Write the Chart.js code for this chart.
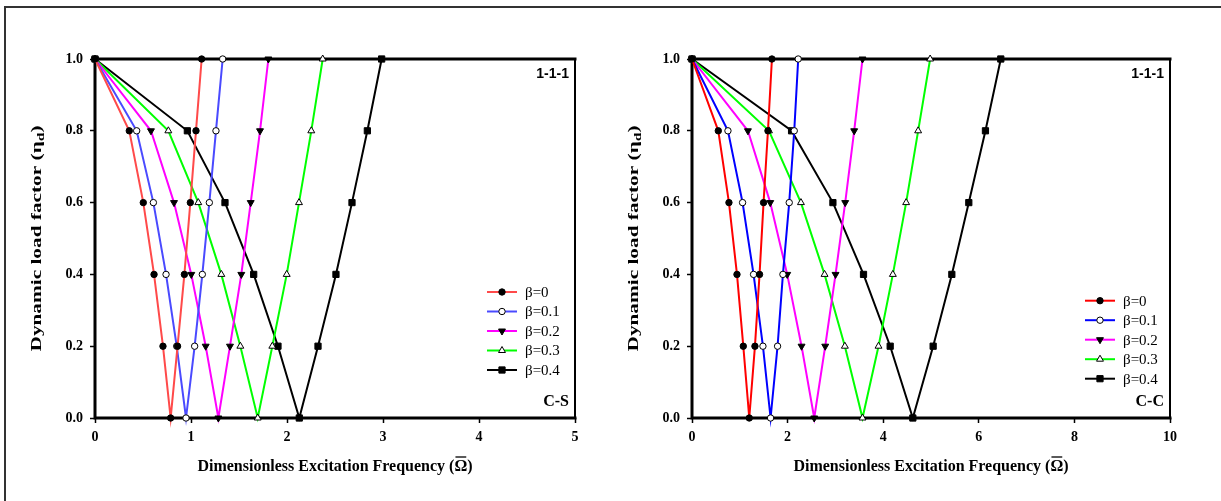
<!DOCTYPE html>
<html><head><meta charset="utf-8">
<script src="https://cdn.jsdelivr.net/npm/chart.js@4/dist/chart.umd.min.js"></script>
<style>
html,body{margin:0;padding:0;background:#fff;width:1221px;height:501px;overflow:hidden}
#frame{position:absolute;left:4px;top:6px;width:1217px;height:495px;border-top:2px solid #333;border-left:2px solid #333;box-sizing:border-box}
#c1{position:absolute;left:0;top:0}
#c2{position:absolute;left:600px;top:0}
</style></head><body>
<div id="frame"></div>
<canvas id="c1" width="600" height="501"></canvas>
<canvas id="c2" width="621" height="501"></canvas>
<script>
// ---------- data ----------
const seriesLabels = ['β=0', 'β=0.1', 'β=0.2', 'β=0.3', 'β=0.4'];
const etaLevels = [1.0, 0.8, 0.6, 0.4, 0.2, 0.0, 0.2, 0.4, 0.6, 0.8, 1.0];

// C-S panel: excitation frequency at each eta level (left branch down, right branch up)
const csBeta0  = [0, 0.357, 0.503, 0.615, 0.708, 0.788, 0.860, 0.931, 0.993, 1.052, 1.111];
const csBeta01 = [0, 0.434, 0.608, 0.740, 0.851, 0.948, 1.038, 1.118, 1.191, 1.260, 1.330];
const csBeta02 = [0, 0.583, 0.823, 1.003, 1.153, 1.285, 1.406, 1.524, 1.622, 1.719, 1.806];
const csBeta03 = [0, 0.764, 1.076, 1.316, 1.514, 1.695, 1.847, 1.997, 2.125, 2.253, 2.372];
const csBeta04 = [0, 0.962, 1.354, 1.653, 1.906, 2.128, 2.323, 2.510, 2.677, 2.837, 2.986];

// C-C panel
const ccBeta0  = [0, 0.550, 0.773, 0.941, 1.073, 1.198, 1.317, 1.413, 1.497, 1.589, 1.672];
const ccBeta01 = [0, 0.752, 1.058, 1.288, 1.484, 1.644, 1.790, 1.902, 2.034, 2.139, 2.222];
const ccBeta02 = [0, 1.170, 1.637, 1.992, 2.292, 2.557, 2.787, 3.003, 3.205, 3.393, 3.567];
const ccBeta03 = [0, 1.610, 2.279, 2.773, 3.198, 3.567, 3.902, 4.202, 4.480, 4.731, 4.982];
const ccBeta04 = [0, 2.083, 2.948, 3.588, 4.146, 4.620, 5.045, 5.436, 5.791, 6.139, 6.460];

const yTicks = [0, 0.2, 0.4, 0.6, 0.8, 1.0];
const csXTicks = [0, 1, 2, 3, 4, 5];
const ccXTicks = [0, 2, 4, 6, 8, 10];

const xTitle = 'Dimensionless Excitation Frequency (';
const yTitle = 'Dynamic load factor (η';

// ---------- styles ----------
const markerStyles = [
  {pointStyle: 'circle', radius: 3.2, rotation: 0, fill: '#000'},
  {pointStyle: 'circle', radius: 3.2, rotation: 0, fill: '#fff'},
  {pointStyle: 'triangle', radius: 4, rotation: 180, fill: '#000'},
  {pointStyle: 'triangle', radius: 4, rotation: 0, fill: '#fff'},
  {pointStyle: 'rect', radius: 4.4, rotation: 0, fill: '#000'}
];
const SERIF = '"Liberation Serif", "Times New Roman", serif';
const SANS = '"Liberation Sans", Arial, sans-serif';

function makeDatasets(xArrays, colors) {
  return xArrays.map((xs, i) => ({
    label: seriesLabels[i],
    data: xs.map((x, k) => ({x: x, y: etaLevels[k]})),
    showLine: true,
    borderColor: colors[i],
    borderWidth: 2,
    pointStyle: markerStyles[i].pointStyle,
    pointRadius: markerStyles[i].radius,
    pointRotation: markerStyles[i].rotation,
    pointBackgroundColor: markerStyles[i].fill,
    pointBorderColor: '#000',
    pointBorderWidth: 1,
    clip: false,
    tension: 0
  }));
}

function drawMarker(ctx, st, x, y) {
  ctx.save();
  ctx.fillStyle = st.fill; ctx.strokeStyle = '#000'; ctx.lineWidth = 1;
  if (Chart.helpers && Chart.helpers.drawPoint) {
    Chart.helpers.drawPoint(ctx, {pointStyle: st.pointStyle, radius: st.radius, rotation: st.rotation, borderWidth: 1}, x, y);
  } else {
    ctx.beginPath(); ctx.arc(x, y, st.radius, 0, Math.PI * 2); ctx.fill(); ctx.stroke();
  }
  ctx.restore();
}

const panelPlugin = {
  id: 'panelDeco',
  beforeDatasetsDraw(chart, args, opts) {
    const {ctx, chartArea: a} = chart;
    ctx.save();
    ctx.strokeStyle = '#000';
    ctx.lineCap = 'square';
    ctx.lineWidth = 3;
    ctx.beginPath();
    ctx.moveTo(a.left, a.bottom); ctx.lineTo(a.left, a.top); ctx.lineTo(a.right, a.top);
    ctx.moveTo(a.left, a.bottom); ctx.lineTo(a.right, a.bottom);
    ctx.stroke();
    ctx.lineWidth = 2;
    ctx.beginPath(); ctx.moveTo(a.right, a.top); ctx.lineTo(a.right, a.bottom); ctx.stroke();
    ctx.restore();
  },
  afterDraw(chart, args, opts) {
    const {ctx, chartArea: a} = chart;
    ctx.save();
    ctx.fillStyle = '#000';
    // corner labels
    ctx.font = 'bold 14px ' + SANS;
    ctx.textAlign = 'right'; ctx.textBaseline = 'alphabetic';
    ctx.fillText('1-1-1', a.right - 6, a.top + 19);
    ctx.font = 'bold 16px ' + SERIF;
    ctx.fillText(opts.tag, a.right - 6, a.bottom - 12);

    // legend
    ctx.font = '15px ' + SERIF;
    ctx.textAlign = 'left'; ctx.textBaseline = 'middle';
    for (let i = 0; i < 5; i++) {
      const y = a.top + opts.legTop + i * 19.5;
      const ds = chart.data.datasets[i];
      ctx.strokeStyle = ds.borderColor; ctx.lineWidth = 2;
      ctx.beginPath();
      ctx.moveTo(a.right - opts.legLine, y); ctx.lineTo(a.right - opts.legLine + 30, y);
      ctx.stroke();
      drawMarker(ctx, markerStyles[i], a.right - opts.legLine + 15, y);
      ctx.fillStyle = '#000';
      ctx.fillText(seriesLabels[i], a.right - opts.legText, y + 1);
    }

    // x title with overbar on Omega
    ctx.font = 'bold 16px ' + SERIF;
    ctx.textBaseline = 'middle'; ctx.textAlign = 'left';
    const full = xTitle + 'Ω)';
    const wFull = ctx.measureText(full).width;
    const cx = (a.left + a.right) / 2;
    const tx = cx - wFull / 2, ty = a.bottom + 49;
    ctx.fillText(full, tx, ty);
    const w1 = ctx.measureText(xTitle).width;
    const wO = ctx.measureText('Ω').width;
    ctx.strokeStyle = '#000'; ctx.lineWidth = 1.3;
    ctx.beginPath(); ctx.moveTo(tx + w1 + 1, ty - 10); ctx.lineTo(tx + w1 + wO - 1, ty - 10); ctx.stroke();

    // y title with subscript d, stretched along its length
    ctx.translate(a.left - 58, (a.top + a.bottom) / 2);
    ctx.rotate(-Math.PI / 2);
    ctx.font = 'bold 15px ' + SERIF;
    const wa = ctx.measureText(yTitle).width;
    ctx.font = 'bold 11px ' + SERIF;
    const wd = ctx.measureText('d').width;
    ctx.font = 'bold 15px ' + SERIF;
    const wc = ctx.measureText(')').width;
    const total = wa + wd + wc;
    ctx.scale(opts.yTitleLen / total, 1);
    let x0 = -total / 2;
    ctx.fillText(yTitle, x0, 0);
    ctx.font = 'bold 11px ' + SERIF;
    ctx.fillText('d', x0 + wa, 4);
    ctx.font = 'bold 15px ' + SERIF;
    ctx.fillText(')', x0 + wa + wd, 0);
    ctx.restore();
  }
};

function makeChart(id, xArrays, colors, xMax, xTicks, pad, deco) {
  return new Chart(document.getElementById(id), {
    type: 'scatter',
    data: {datasets: makeDatasets(xArrays, colors)},
    options: {
      responsive: false,
      animation: false,
      layout: {padding: pad},
      plugins: {legend: {display: false}, tooltip: {enabled: false}, panelDeco: deco},
      scales: {
        x: {
          type: 'linear', min: 0, max: xMax,
          afterBuildTicks: s => { s.ticks = xTicks.map(v => ({value: v})); },
          afterFit: s => { s.height = 83; },
          ticks: {color: '#000', font: {family: SERIF, size: 14, weight: 'bold'}, padding: 6, maxRotation: 0},
          grid: {drawOnChartArea: false, drawTicks: true, tickLength: 5, tickColor: '#000', tickWidth: 1.5},
          border: {display: false}
        },
        y: {
          type: 'linear', min: 0, max: 1,
          afterBuildTicks: s => { s.ticks = yTicks.map(v => ({value: v})); },
          afterFit: s => { s.width = 90; },
          ticks: {color: '#000', font: {family: SERIF, size: 14, weight: 'bold'}, padding: 7,
                  callback: v => Number(v).toFixed(1)},
          grid: {drawOnChartArea: false, drawTicks: true, tickLength: 5, tickColor: '#000', tickWidth: 1.5},
          border: {display: false}
        }
      }
    },
    plugins: [panelPlugin]
  });
}

makeChart('c1', [csBeta0, csBeta01, csBeta02, csBeta03, csBeta04],
  ['#ff4a4a', '#4a4aff', '#ff00ff', '#00ff00', '#000000'], 5, csXTicks,
  {left: 5, top: 59, right: 25, bottom: 0},
  {tag: 'C-S', legTop: 233, legLine: 88, legText: 50, yTitleLen: 226});

makeChart('c2', [ccBeta0, ccBeta01, ccBeta02, ccBeta03, ccBeta04],
  ['#ff0000', '#0000ff', '#ff00ff', '#00ff00', '#000000'], 10, ccXTicks,
  {left: 2, top: 59, right: 51, bottom: 0},
  {tag: 'C-C', legTop: 241.7, legLine: 85, legText: 47, yTitleLen: 226});
</script>
</body></html>
